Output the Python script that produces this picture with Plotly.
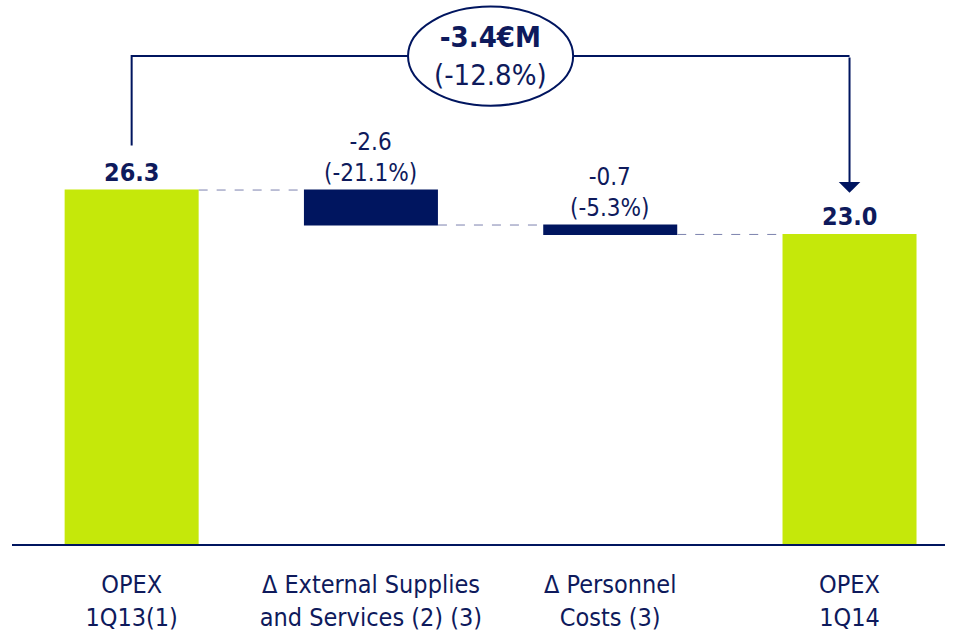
import plotly.graph_objects as go

# ---- data ----
categories = ["OPEX<br>1Q13(1)", "Δ External Supplies<br>and Services (2) (3)",
              "Δ Personnel<br>Costs (3)", "OPEX<br>1Q14"]
measures = ["absolute", "relative", "relative", "total"]
values = [26.3, -2.6, -0.7, 0]
value_labels = ["<b>26.3</b>", "-2.6<br>(-21.1%)", "-0.7<br>(-5.3%)", "<b>23.0</b>"]
total_change_label = "<b>-3.4€M</b><br>(-12.8%)"

GREEN = "#C5E80A"
NAVY = "#00155F"
TEXT = "#0E1A5C"
FONT = "DejaVu Sans Condensed, DejaVu Sans, sans-serif"

fig = go.Figure(go.Waterfall(
    x=categories, y=values, measure=measures,
    width=0.56,
    increasing=dict(marker=dict(color=NAVY)),
    decreasing=dict(marker=dict(color=NAVY)),
    totals=dict(marker=dict(color=GREEN)),
    connector=dict(mode="between", line=dict(color="#7C82AE", width=1, dash="dash")),
    textinfo="none", hoverinfo="skip",
))

# cumulative tops for labels
tops = []
run = 0
for m, v in zip(measures, values):
    if m == "absolute":
        run = v
        tops.append(v)
    elif m == "relative":
        tops.append(run)
        run += v
    else:
        tops.append(run)

label_sizes = [25, 24, 24, 25]
annotations = []
for i, (t, lab) in enumerate(zip(tops, value_labels)):
    annotations.append(dict(x=i, y=t, text=lab, showarrow=False, yanchor="bottom",
                            yshift=1, font=dict(size=label_sizes[i], color=TEXT, family=FONT)))

# bracket layout positions (value-axis units)
BRACKET_Y = 36.25
LEFT_END = 29.6
ARROW_TIP = 26.1

annotations.append(dict(x=3, y=ARROW_TIP, ax=3, ay=BRACKET_Y, axref="x", ayref="y",
                        xref="x", yref="y", text="", showarrow=True, arrowhead=1,
                        arrowsize=1.8, arrowwidth=2, arrowcolor=NAVY, standoff=0))
annotations.append(dict(x=1.5, y=BRACKET_Y, text=total_change_label, showarrow=False,
                        yanchor="middle", font=dict(size=29, color=TEXT, family=FONT)))

shapes = [
    dict(type="path", xref="x", yref="y",
         path=f"M 0,{LEFT_END} L 0,{BRACKET_Y} L 3,{BRACKET_Y}",
         line=dict(color=NAVY, width=2), layer="above"),
    dict(type="circle", xref="x", yref="y", x0=1.5 - 0.345, x1=1.5 + 0.345,
         y0=BRACKET_Y - 3.68, y1=BRACKET_Y + 3.68, fillcolor="white",
         line=dict(color=NAVY, width=2), layer="above"),
]

fig.update_layout(
    width=954, height=630,
    margin=dict(l=12, r=9, t=0, b=86, autoexpand=False),
    paper_bgcolor="white", plot_bgcolor="white",
    showlegend=False,
    annotations=annotations, shapes=shapes,
    font=dict(family=FONT, color=TEXT),
)
fig.update_xaxes(type="category", range=[-0.5, 3.399], showline=True, linecolor=NAVY,
                 linewidth=2, showgrid=False, ticks="", ticklabelstandoff=17,
                 automargin=False,
                 tickfont=dict(size=25, color=TEXT, family=FONT), zeroline=False)
fig.update_yaxes(range=[0, 40.42], visible=False, showgrid=False, zeroline=False,
                 automargin=False)

fig.write_html("out.html", config={"displayModeBar": False},
               post_script="document.body.style.margin='0';document.body.style.overflow='hidden';")
